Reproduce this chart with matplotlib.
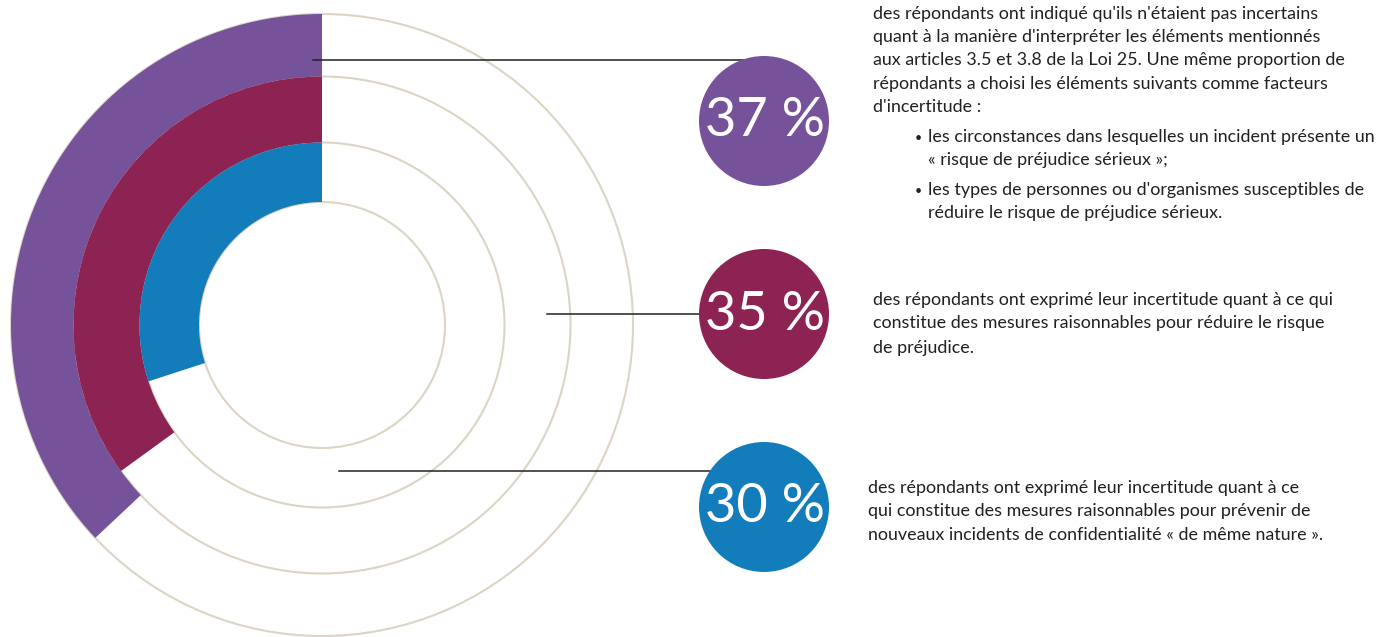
import matplotlib
matplotlib.use("Agg")
import matplotlib.pyplot as plt
from matplotlib.patches import Circle

# ---- data ----
categories = ["interpretation", "mesures_reduire", "mesures_prevenir"]
percents = [37, 35, 30]
labels = ["37 %", "35 %", "30 %"]
colors = ["#75529A", "#8C2352", "#137CBA"]

block1 = [
    "des répondants ont indiqué qu'ils n'étaient pas incertains",
    "quant à la manière d'interpréter les éléments mentionnés",
    "aux articles 3.5 et 3.8 de la Loi 25. Une même proportion de",
    "répondants a choisi les éléments suivants comme facteurs",
    "d'incertitude :",
]
bullets = [
    ["les circonstances dans lesquelles un incident présente un",
     "« risque de préjudice sérieux »;"],
    ["les types de personnes ou d'organismes susceptibles de",
     "réduire le risque de préjudice sérieux."],
]
block2 = [
    "des répondants ont exprimé leur incertitude quant à ce qui",
    "constitue des mesures raisonnables pour réduire le risque",
    "de préjudice.",
]
block3 = [
    "des répondants ont exprimé leur incertitude quant à ce",
    "qui constitue des mesures raisonnables pour prévenir de",
    "nouveaux incidents de confidentialité « de même nature ».",
]

W, H = 1377, 637
fig = plt.figure(figsize=(W / 100, H / 100), dpi=100)
ax = fig.add_axes([0, 0, 1, 1])
ax.set_xlim(0, W)
ax.set_ylim(0, H)

def Y(y):  # pixel row -> data y
    return H - y

cx, cy = 322, Y(325)
ring_outer = [311, 248.5, 182.5]
ring_inner = [248.5, 182.5, 123]
guide_r = [311, 248.5, 182.5, 123]
grey = "#DCD5C6"

for r in guide_r:
    ax.add_patch(Circle((cx, cy), r, fill=False, ec=grey, lw=1.5, zorder=1))

for p, c, ro, ri in zip(percents, colors, ring_outer, ring_inner):
    ax.pie([p, 100 - p], colors=[c, "none"], startangle=90, counterclock=True,
           radius=ro, center=(cx, cy), frame=True,
           wedgeprops=dict(width=ro - ri, linewidth=0))

# connectors and bubbles
line_y = [60, 314, 471]
line_x0 = [313, 547, 339]
bub_y = [121, 314, 507]
bub_x = 764
bub_r = 65
for ly, lx, by, c, lab in zip(line_y, line_x0, bub_y, colors, labels):
    ax.plot([lx, bub_x], [Y(ly), Y(ly)], color="#222222", lw=1.1, zorder=3)
    ax.add_patch(Circle((bub_x, Y(by)), bub_r, color=c, zorder=4, lw=0))
    ax.text(bub_x + 1, Y(by), lab, color="white", fontsize=39, family="Lato",
            ha="center", va="center", zorder=5)

fs0 = 13.0
tcol = "#231F20"
font = "Lato"
right_edge = 1372
body = []

def put_lines(x, ys, lines):
    for y, s in zip(ys, lines):
        t = ax.text(x, Y(y + 5), s, fontsize=fs0, family=font, color=tcol,
                    va="baseline", ha="left")
        body.append((x, t))

put_lines(873, [14, 37, 60, 84, 107], block1)
bullet_ys = [[137, 160], [190, 213]]
for ys, bl in zip(bullet_ys, bullets):
    ax.text(915, Y(ys[0] + 5), "•", fontsize=9, family=font, color=tcol,
            va="baseline", ha="left")
    put_lines(928, ys, bl)
put_lines(873, [300, 323, 348], block2)
put_lines(868, [488, 511, 535], block3)

# fit body font size so that the widest line reaches the right margin
renderer = fig.canvas.get_renderer()
scale = min((right_edge - x) / t.get_window_extent(renderer).width for x, t in body)
for x, t in body:
    t.set_fontsize(fs0 * scale)

ax.set_aspect("auto")
ax.axis("off")
fig.savefig("out.png", dpi=100, facecolor="white")
